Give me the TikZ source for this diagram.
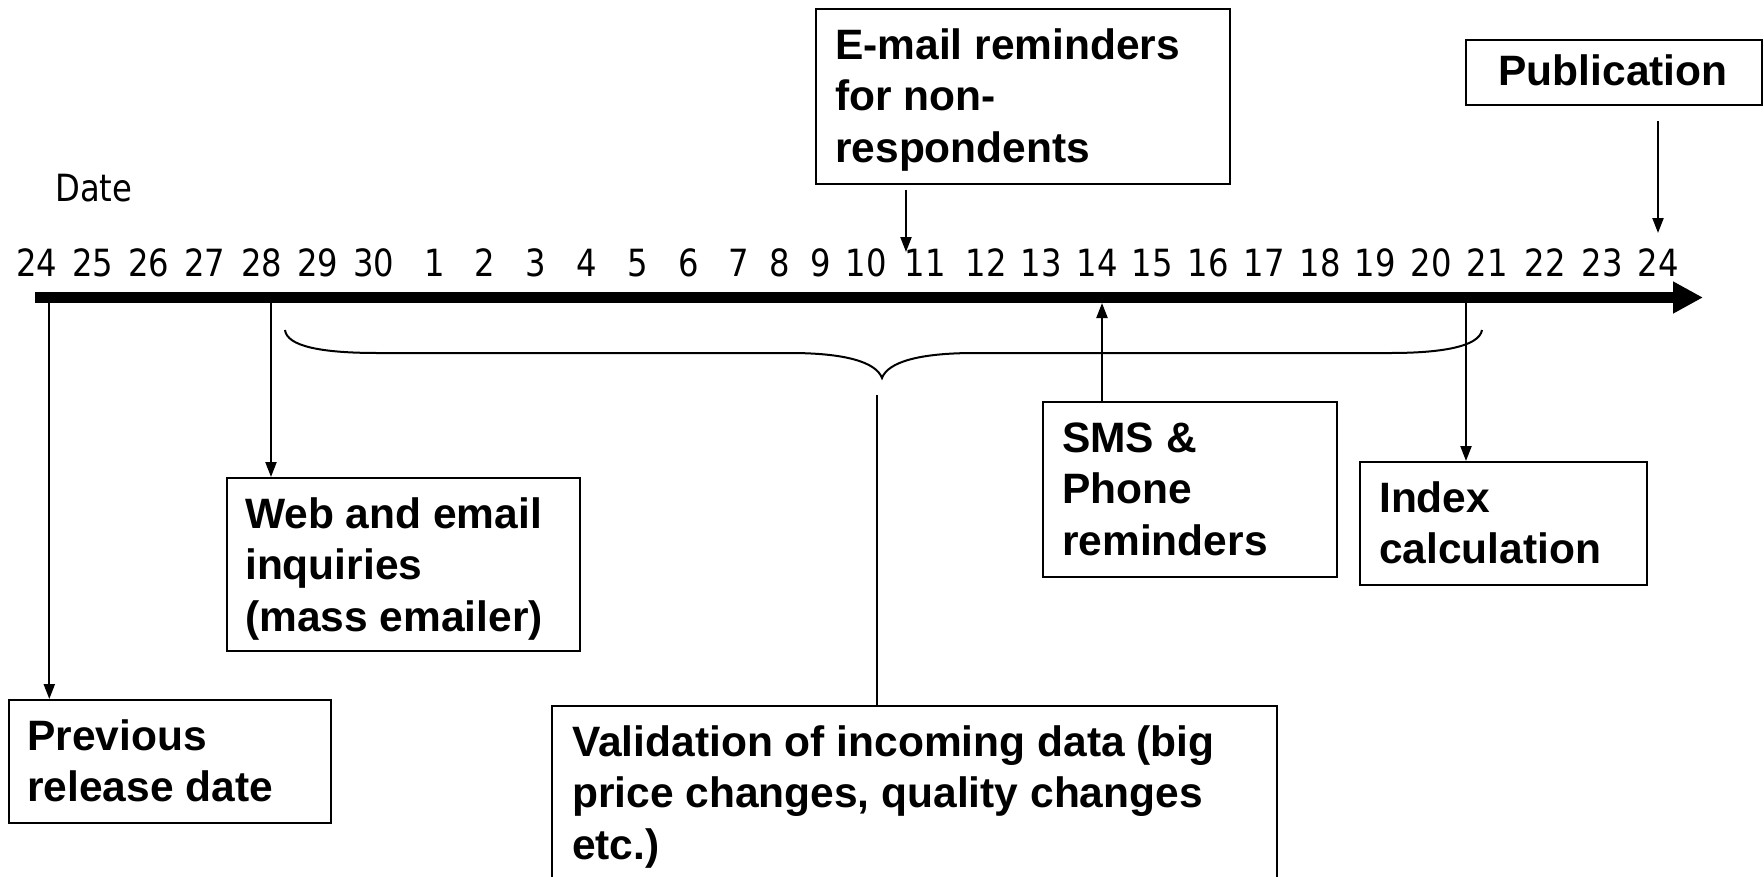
\documentclass[tikz,border=0pt]{standalone}
\usepackage{fontspec}
\setmainfont{Liberation Sans}
\newfontfamily\tahoma[FakeStretch=0.86]{DejaVu Sans}
\usetikzlibrary{arrows.meta}
\begin{document}
\begin{tikzpicture}[x=1pt,y=-1pt,
  box/.style={draw, line width=2pt, inner sep=0pt, anchor=north west},
  boxtext/.style={anchor=north west, inner sep=0pt, align=left, font=\fontsize{42.5}{51.5}\selectfont\bfseries},
  num/.style={anchor=base, inner sep=0pt, font=\tahoma\fontsize{37.5}{40}\selectfont},
  conn/.style={line width=2.2pt, -{Triangle[length=15pt,width=11pt]}},
  plainline/.style={line width=2.2pt}]
\useasboundingbox (0,0) rectangle (1764,876);
\clip (0,0) rectangle (1764,876);

% date label and day numbers
\node[anchor=base west, inner sep=0pt, font=\tahoma\fontsize{37.5}{40}\selectfont] (date) at (55,201.7) {Date};
\foreach \x/\t [count=\i] in {37/24,93/25,149/26,205/27,262/28,318/29,374/30,435/1,485/2,536/3,587/4,638/5,689/6,739/7,780/8,821/9,866/10,925/11,986/12,1041/13,1097/14,1152/15,1208/16,1264/17,1320/18,1375/19,1431/20,1487/21,1545/22,1602/23,1658/24}
  \node[num] (n\i) at (\x,276.7) {\t};

% time axis
\draw[line width=10.5pt, -{Triangle[length=30pt,width=30pt]}] (35,297.5) -- (1703,297.5);

% brace
\draw[line width=2pt] (285,330) .. controls (287,346) and (320,353) .. (378,353) -- (790,353)
  .. controls (845,353) and (876,362) .. (882,378)
  .. controls (888,362) and (919,353) .. (975,353) -- (1390,353)
  .. controls (1440,353) and (1479,347) .. (1482,330);

% boxes
\node[box, minimum width=414pt, minimum height=175pt] (email) at (815,8) {};
\node[boxtext] (emailt) at (835,28) {\rule{0pt}{31pt}E-mail reminders\\for non-\\respondents};

\node[box, minimum width=296pt, minimum height=65pt] (pub) at (1465,39) {};
\node[anchor=base, inner sep=0pt, font=\fontsize{42.5}{51.5}\selectfont\bfseries] (pubt) at (1613,85) {Publication};

\node[box, minimum width=322pt, minimum height=123pt] (prev) at (8,699) {};
\node[boxtext] (prevt) at (27,719) {\rule{0pt}{31pt}Previous\\release date};

\node[box, minimum width=353pt, minimum height=173pt] (web) at (226,477) {};
\node[boxtext] (webt) at (245,497) {\rule{0pt}{31pt}Web and email\\inquiries\\(mass emailer)};

\node[box, minimum width=725pt, minimum height=200pt] (valid) at (551,705) {};
\node[boxtext] (validt) at (572,725) {\rule{0pt}{31pt}Validation of incoming data (big\\price changes, quality changes\\etc.)};

\node[box, minimum width=294pt, minimum height=175pt] (sms) at (1042,401) {};
\node[boxtext] (smst) at (1062,421) {\rule{0pt}{31pt}SMS \&\\Phone\\reminders};

\node[box, minimum width=287pt, minimum height=123pt] (index) at (1359,461) {};
\node[boxtext] (indext) at (1379,481) {\rule{0pt}{31pt}Index\\calculation};

% connectors
\coordinate (bPrev) at (49.3,303);
\coordinate (bWeb) at (271,303);
\coordinate (bSms) at (1102,303);
\coordinate (bIdx) at (1466,303);
\coordinate (eS) at (906,190);
\coordinate (eT) at (906,252);
\coordinate (pS) at (1658,121);
\coordinate (pT) at (1658,233);
\coordinate (vS) at (877,395);

\draw[conn] (bPrev) -- (prev.north -| bPrev);
\draw[conn] (bWeb) -- (web.north -| bWeb);
\draw[conn] (sms.north -| bSms) -- (bSms);
\draw[conn] (bIdx) -- (index.north -| bIdx);
\draw[conn] (eS) -- (eT);
\draw[conn] (pS) -- (pT);
\draw[plainline] (vS) -- (valid.north -| vS);
\end{tikzpicture}
\end{document}
